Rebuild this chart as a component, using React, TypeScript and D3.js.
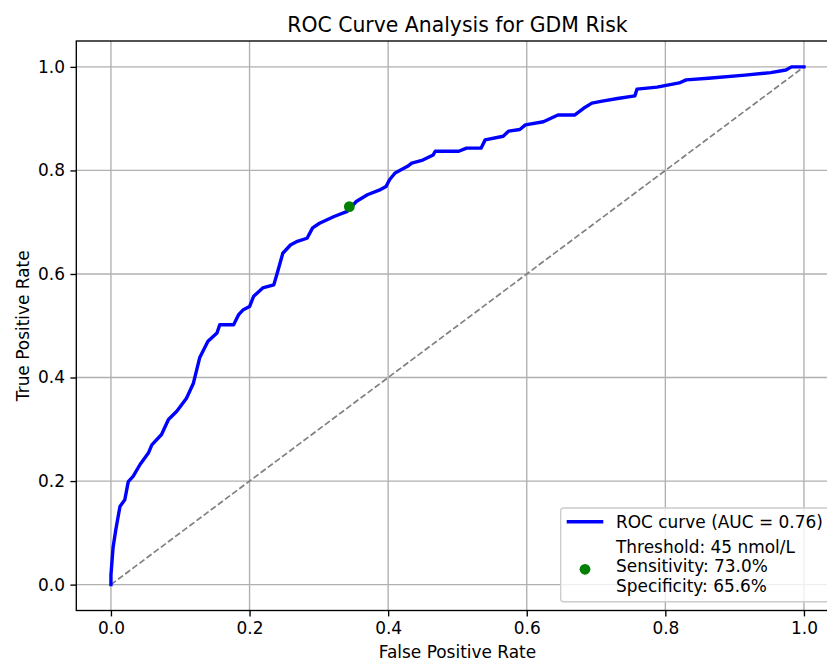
// App.tsx
import React, { useRef, useEffect } from 'react';
import * as d3 from 'd3';

// ROC curve points (false positive rate / true positive rate)
const fprValues = [
    0, 0, 0.003, 0.007, 0.013, 0.02, 0.025, 0.032, 0.042, 0.054, 0.059, 0.073, 0.083, 0.095,
    0.109, 0.119, 0.128, 0.14, 0.153, 0.157, 0.177, 0.184, 0.191, 0.2, 0.206, 0.219, 0.235,
    0.24, 0.248, 0.259, 0.269, 0.283, 0.291, 0.301, 0.322, 0.341, 0.354, 0.37, 0.389, 0.397,
    0.402, 0.41, 0.428, 0.434, 0.45, 0.465, 0.468, 0.502, 0.513, 0.534, 0.54, 0.566, 0.574,
    0.59, 0.598, 0.624, 0.645, 0.669, 0.682, 0.694, 0.709, 0.731, 0.756, 0.759, 0.788, 0.82,
    0.83, 0.862, 0.915, 0.952, 0.974, 0.982, 1.0,
];
const tprValues = [
    0, 0.019, 0.071, 0.106, 0.151, 0.164, 0.199, 0.209, 0.232, 0.254, 0.27, 0.29, 0.319, 0.335,
    0.36, 0.389, 0.438, 0.47, 0.486, 0.502, 0.502, 0.521, 0.531, 0.537, 0.557, 0.573, 0.579,
    0.602, 0.64, 0.656, 0.663, 0.669, 0.689, 0.698, 0.711, 0.721, 0.74, 0.753, 0.763, 0.769,
    0.782, 0.795, 0.808, 0.814, 0.82, 0.83, 0.837, 0.837, 0.843, 0.843, 0.859, 0.866, 0.876,
    0.879, 0.888, 0.894, 0.907, 0.907, 0.92, 0.93, 0.934, 0.939, 0.944, 0.957, 0.961, 0.969,
    0.975, 0.978, 0.984, 0.989, 0.994, 1.0, 1.0,
];

// optimal threshold point
const optimalPoint = { fpr: 0.344, tpr: 0.73 };

const tickValues = [0, 0.2, 0.4, 0.6, 0.8, 1.0];
const chartTitle = 'ROC Curve Analysis for GDM Risk';
const xLabel = 'False Positive Rate';
const yLabel = 'True Positive Rate';
const rocLabel = 'ROC curve (AUC = 0.76)';
const pointLabel = ['Threshold: 45 nmol/L', 'Sensitivity: 73.0%', 'Specificity: 65.6%'];

const App = () => {
    const chartRef = useRef<SVGSVGElement>(null);

    useEffect(() => {
        d3.select(chartRef.current).selectAll('*').remove();

        const W = 827;
        const H = 662;
        const left = 76.3;
        const right = 838.6;
        const top = 41;
        const bottom = 610.5;
        const font = 'DejaVu Sans, sans-serif';
        const fs = '16.95px';

        const svg = d3.select(chartRef.current).attr('width', W).attr('height', H);

        const x = d3.scaleLinear().domain([-0.05, 1.05]).range([left, right]);
        const y = d3.scaleLinear().domain([-0.05, 1.05]).range([bottom, top]);

        svg.append('rect').attr('width', W).attr('height', H).attr('fill', 'white');

        // grid
        const grid = svg.append('g');
        tickValues.forEach((t) => {
            grid.append('line')
                .attr('x1', x(t)).attr('x2', x(t))
                .attr('y1', top).attr('y2', bottom)
                .attr('stroke', '#b0b0b0').attr('stroke-width', 1.35);
            grid.append('line')
                .attr('x1', left).attr('x2', right)
                .attr('y1', y(t)).attr('y2', y(t))
                .attr('stroke', '#b0b0b0').attr('stroke-width', 1.35);
        });

        // diagonal chance line
        svg.append('line')
            .attr('x1', x(0)).attr('y1', y(0))
            .attr('x2', x(1)).attr('y2', y(1))
            .attr('stroke', 'gray')
            .attr('stroke-width', 1.7)
            .attr('stroke-dasharray', '6.2,2.7');

        // ROC curve
        const points: [number, number][] = fprValues.map((f, i) => [f, tprValues[i]]);
        const line = d3.line<[number, number]>()
            .x((d) => x(d[0]))
            .y((d) => y(d[1]));
        svg.append('path')
            .datum(points)
            .attr('d', line)
            .attr('fill', 'none')
            .attr('stroke', 'blue')
            .attr('stroke-width', 3.4)
            .attr('stroke-linejoin', 'round')
            .attr('stroke-linecap', 'square');

        // optimal point
        svg.append('circle')
            .attr('cx', x(optimalPoint.fpr))
            .attr('cy', y(optimalPoint.tpr))
            .attr('r', 5.4)
            .attr('fill', 'green');

        // axes
        const xAxis = d3.axisBottom(x).tickValues(tickValues).tickFormat(d3.format('.1f'))
            .tickSize(5.9).tickPadding(5.5);
        const yAxis = d3.axisLeft(y).tickValues(tickValues).tickFormat(d3.format('.1f'))
            .tickSize(5.9).tickPadding(5.5);

        const gx = svg.append('g').attr('transform', `translate(0,${bottom})`).call(xAxis);
        const gy = svg.append('g').attr('transform', `translate(${left},0)`).call(yAxis);
        [gx, gy].forEach((g) => {
            g.select('.domain').remove();
            g.selectAll('line').attr('stroke', 'black').attr('stroke-width', 1.35);
            g.selectAll('text')
                .attr('fill', 'black')
                .style('font-family', font)
                .style('font-size', fs);
        });

        // spines
        svg.append('rect')
            .attr('x', left).attr('y', top)
            .attr('width', right - left).attr('height', bottom - top)
            .attr('fill', 'none')
            .attr('stroke', 'black')
            .attr('stroke-width', 1.35);

        // labels
        svg.append('text')
            .attr('x', (left + right) / 2).attr('y', 31.7)
            .attr('text-anchor', 'middle')
            .style('font-family', font).style('font-size', '20.4px')
            .text(chartTitle);
        svg.append('text')
            .attr('x', (left + right) / 2).attr('y', 658)
            .attr('text-anchor', 'middle')
            .style('font-family', font).style('font-size', fs)
            .text(xLabel);
        svg.append('text')
            .attr('transform', `translate(28.5,${(top + bottom) / 2}) rotate(-90)`)
            .attr('text-anchor', 'middle')
            .style('font-family', font).style('font-size', fs)
            .text(yLabel);

        // legend
        const lg = svg.append('g');
        lg.append('rect')
            .attr('x', 560.7).attr('y', 508)
            .attr('width', 269.5).attr('height', 93.7)
            .attr('rx', 3)
            .attr('fill', 'white').attr('fill-opacity', 0.8)
            .attr('stroke', '#cccccc').attr('stroke-width', 1.35);
        lg.append('line')
            .attr('x1', 566.7).attr('x2', 603.3)
            .attr('y1', 521.7).attr('y2', 521.7)
            .attr('stroke', 'blue').attr('stroke-width', 3.4);
        lg.append('text')
            .attr('x', 616).attr('y', 527.6)
            .style('font-family', font).style('font-size', fs)
            .text(rocLabel);
        lg.append('circle')
            .attr('cx', 585).attr('cy', 569.3).attr('r', 5.4)
            .attr('fill', 'green');
        pointLabel.forEach((t, i) => {
            lg.append('text')
                .attr('x', 616).attr('y', 552.6 + i * 19.5)
                .style('font-family', font).style('font-size', fs)
                .text(t);
        });
    }, []);

    return (
        <svg ref={chartRef} style={{ position: 'absolute', left: 0, top: 0 }}></svg>
    );
};

export default App;
